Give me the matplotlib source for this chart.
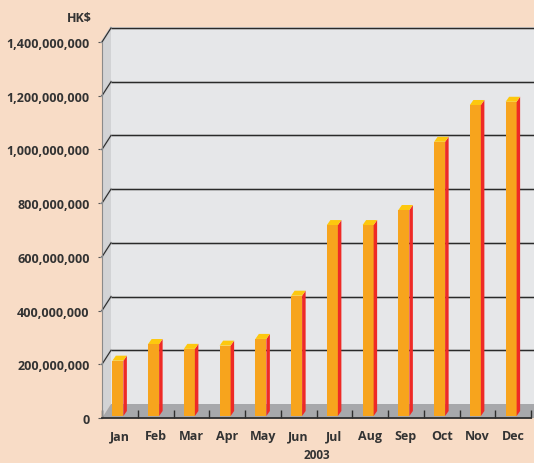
import numpy as np
import matplotlib
matplotlib.use("Agg")
import matplotlib.pyplot as plt
from matplotlib.patches import Polygon, Rectangle
from matplotlib.ticker import FuncFormatter

# data (HK$, 2003)
months = ["Jan", "Feb", "Mar", "Apr", "May", "Jun",
          "Jul", "Aug", "Sep", "Oct", "Nov", "Dec"]
amounts = [206e6, 268e6, 250e6, 262e6, 287e6, 448e6,
           711e6, 711e6, 767e6, 1021e6, 1158e6, 1170e6]
yticks = [0, 200e6, 400e6, 600e6, 800e6, 1000e6, 1200e6, 1400e6]

bg = "#f8dcc6"
wall = "#e6e7e9"
side_wall = "#d2d3d5"
floor_c = "#a7a8ab"
orange = "#f7a41d"
red = "#ee2a26"
yellow = "#fdc80e"
txt = "#333333"

plt.rcParams['font.family'] = ['Open Sans', 'DejaVu Sans']

W, H = 534, 464
left_px, right_px = 102, 531
bottom_px, top_px = 419, 43

fig = plt.figure(figsize=(W / 100, H / 100), dpi=100, facecolor=bg)
ax = fig.add_axes([left_px / W, 1 - bottom_px / H,
                   (right_px - left_px) / W, (bottom_px - top_px) / H])
ax.set_facecolor("none")
ax.set_xlim(-0.5, 11.5)
ax.set_ylim(0, 1.4e9)

cat_per_px = 12 / (right_px - left_px)
val_per_px = 1.4e9 / (bottom_px - top_px)
ddx = 9 * cat_per_px     # depth of the walls
ddy = 14 * val_per_px
x0, x1 = -0.5, 11.5
ytop = yticks[-1]

# back wall, left wall, floor
ax.add_patch(Rectangle((x0 + ddx, ddy), 14, ytop, color=wall, lw=0, clip_on=False, zorder=0))
ax.add_patch(Polygon([(x0, 0), (x0, ytop), (x0 + ddx, ytop + ddy), (x0 + ddx, ddy)],
                     closed=True, color=side_wall, lw=0, clip_on=False, zorder=0))
ax.add_patch(Polygon([(x0, 0), (x1 + 1, 0), (x1 + 1, ddy), (x0 + ddx, ddy)],
                     closed=True, color=floor_c, lw=0, clip_on=False, zorder=1))

# gridlines on the walls
for v in yticks[1:]:
    for lw, c in [(2.0, "#c4c5c7"), (0.9, "#2a2a2a")]:
        ax.plot([x0 + ddx, x1 + 1], [v + ddy, v + ddy], color=c, lw=lw,
                clip_on=False, zorder=2, solid_capstyle="butt")
        ax.plot([x0, x0 + ddx], [v, v + ddy], color=c, lw=lw * 0.9,
                clip_on=False, zorder=2)

# bars: front face, side and top
x = np.arange(len(months))
bw = 11 * cat_per_px
bshift = -2 * cat_per_px
base = 2 * val_per_px
sdx = 3.5 * cat_per_px
sdy = 5 * val_per_px
ax.bar(x + bshift, amounts, width=bw, bottom=base, color=orange, zorder=4)
for xi, v in zip(x, amounts):
    xl = xi + bshift - bw / 2
    xr = xi + bshift + bw / 2
    top = base + v
    ax.add_patch(Polygon([(xr, base), (xr, top), (xr + sdx, top + sdy), (xr + sdx, base + sdy)],
                         closed=True, color=red, lw=0, zorder=4))
    ax.add_patch(Polygon([(xl, top), (xr, top), (xr + sdx, top + sdy), (xl + sdx, top + sdy)],
                         closed=True, color=yellow, lw=0, zorder=4))

# axes
for s in ["top", "right"]:
    ax.spines[s].set_visible(False)
ax.spines["bottom"].set_color("#2f2f2f")
ax.spines["bottom"].set_linewidth(1.3)
ax.spines["bottom"].set_zorder(5)
ax.spines["left"].set_color("#8a8a8a")
ax.spines["left"].set_linewidth(0.8)

ax.set_xticks(np.arange(x0, x1 + 0.5, 1))
ax.set_xticks(x, minor=True)
ax.set_xticklabels([])
ax.set_xticklabels(months, minor=True)
ax.tick_params(axis="x", which="major", direction="in", length=6, width=1, color="#2f2f2f")
ax.tick_params(axis="x", which="minor", length=0, pad=8, labelsize=9, labelcolor=txt)
for t in ax.get_xticklabels(minor=True):
    t.set_fontweight("bold")

ax.set_yticks(yticks)
ax.yaxis.set_major_formatter(FuncFormatter(lambda v, p: "{:,.0f}".format(v)))
ax.tick_params(axis="y", direction="out", length=3, width=0.8, color="#555555",
               pad=6, labelsize=9, labelcolor=txt)
for t in ax.get_yticklabels():
    t.set_fontweight("bold")

ax.set_xlabel("2003", fontsize=8.5, fontweight="bold", color=txt, labelpad=4.5)
fig.text(92 / W, 1 - 19 / H, "HK$", ha="right", va="center",
         fontsize=9, fontweight="bold", color=txt)

fig.savefig("out.png", dpi=100, facecolor=bg)
